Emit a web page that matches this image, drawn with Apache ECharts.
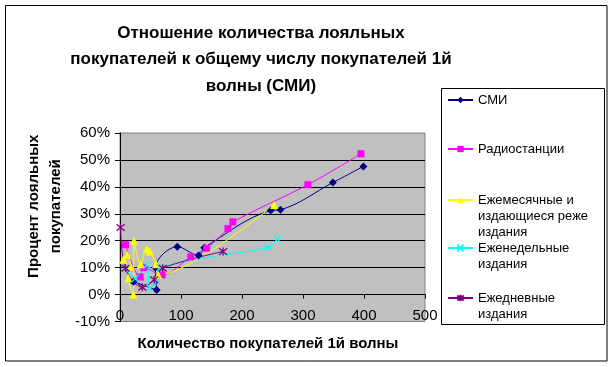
<!DOCTYPE html>
<html>
<head>
<meta charset="utf-8">
<script src="https://cdn.jsdelivr.net/npm/echarts@6/dist/echarts.min.js"></script>
<style>
html,body{margin:0;padding:0;background:#fff;}
#chart{width:613px;height:367px;}
</style>
</head>
<body>
<div id="chart"></div>
<script>
// ---- data ----
const seriesNames = ['СМИ', 'Радиостанции', 'Ежемесячные и издающиеся реже издания', 'Еженедельные издания', 'Ежедневные издания'];
const legendLabels = ['СМИ', 'Радиостанции', 'Ежемесячные и\nиздающиеся реже\nиздания', 'Еженедельные\nиздания', 'Ежедневные\nиздания'];

const smiX = [22, 60, 58, 94, 129, 138, 247, 263, 349, 399];
const smiY = [4.8, 1.7, 10, 17.8, 14.5, 17.4, 31.2, 31.5, 41.6, 47.6];

const radioX = [9, 33, 39, 69, 116, 142, 177, 185, 308, 395];
const radioY = [18.5, 6.5, 10, 7.3, 14, 17.2, 24.5, 27, 40.8, 52.3];

const monthlyX = [5.5, 12, 17.5, 13.6, 22, 23, 34, 44, 49, 59, 63, 252.5];
const monthlyY = [12.9, 14.8, 10.4, 6.1, 0, 20, 11.3, 17, 16, 11.3, 7.3, 33.3];

const weeklyX = [9, 25, 44, 49, 60, 66, 243, 258];
const weeklyY = [9.8, 6, 11, 2.4, 5, 10, 17.6, 20.6];

const dailyX = [1, 9, 36.5, 56, 70, 169];
const dailyY = [24.9, 9.8, 2.7, 5.5, 9.8, 16];

const xTicks = {min: 0, max: 500, interval: 100};
const yTicks = {min: -10, max: 60, interval: 10};

// ---- build ----
const FONT = "'Liberation Sans', Arial, sans-serif";
function pairs(xs, ys) { return xs.map((x, i) => [x, ys[i]]); }

const colors = ['#000080', '#FF00FF', '#FFFF00', '#00FFFF', '#800080'];
const symbols = ['diamond', 'rect', 'triangle', 'path://M0,0L8,8M8,0L0,8', 'path://M0,0L8,8M8,0L0,8M4,-1L4,9'];
const symbolSizes = [8, 7, 8, 7, 8];
const dataSets = [pairs(smiX, smiY), pairs(radioX, radioY), pairs(monthlyX, monthlyY), pairs(weeklyX, weeklyY), pairs(dailyX, dailyY)];
const legendSymbolY = [100, 149, 200, 248, 298];
const LH = 16;

const series = seriesNames.map((name, i) => ({
  name: name,
  type: 'line',
  smooth: 0.35,
  xAxisIndex: 0,
  yAxisIndex: 0,
  data: dataSets[i],
  symbol: symbols[i],
  symbolSize: symbolSizes[i],
  showAllSymbol: true,
  lineStyle: {color: colors[i], width: 1},
  itemStyle: i >= 3 ? {color: colors[i], borderColor: colors[i], borderWidth: 1.3} : {color: colors[i], borderWidth: 0},
  emphasis: {disabled: true},
  animation: false
}));

// Each legend entry is its own legend so the marker sits on the first text line
const legends = seriesNames.map((name, i) => {
  const n = legendLabels[i].split('\n').length;
  const label = '\n'.repeat(n - 1) + legendLabels[i];
  return {
    data: [name],
    orient: 'vertical',
    left: 447,
    top: legendSymbolY[i] - (LH / 2) * (2 * n - 1),
    padding: 0,
    itemWidth: 25,
    itemHeight: 8,
    selectedMode: false,
    formatter: () => label,
    textStyle: {fontFamily: FONT, fontSize: 13, lineHeight: LH, color: '#000'}
  };
});

const chart = echarts.init(document.getElementById('chart'), null, {renderer: 'canvas'});
chart.setOption({
  animation: false,
  backgroundColor: '#ffffff',
  title: {
    text: 'Отношение количества лояльных\nпокупателей к общему числу покупателей 1й\nволны (СМИ)',
    left: 261,
    top: 20,
    textAlign: 'center',
    padding: 0,
    textStyle: {fontFamily: FONT, fontSize: 17, fontWeight: 'bold', lineHeight: 26.5, color: '#000'}
  },
  legend: legends,
  grid: {
    left: 120, top: 133, width: 305, height: 188.5,
    show: true, backgroundColor: '#C0C0C0', borderColor: '#808080', borderWidth: 1
  },
  xAxis: [
    {
      type: 'value', min: xTicks.min, max: xTicks.max, interval: xTicks.interval,
      position: 'bottom',
      name: 'Количество покупателей 1й волны',
      nameLocation: 'middle', nameGap: 15,
      nameTextStyle: {fontFamily: FONT, fontSize: 15, fontWeight: 'bold', color: '#000', verticalAlign: 'top', padding: [0, 9, 0, 0]},
      axisLine: {show: false, onZero: false},
      axisTick: {show: false},
      axisLabel: {fontFamily: FONT, fontSize: 15, color: '#000', margin: -6, verticalAlign: 'middle'},
      splitLine: {show: false}
    },
    {
      type: 'value', min: xTicks.min, max: xTicks.max, interval: xTicks.interval,
      position: 'bottom',
      axisLine: {show: true, onZero: true, onZeroAxisIndex: 0, lineStyle: {color: '#000', width: 1}},
      axisTick: {show: true, inside: false, length: 4, lineStyle: {color: '#000', width: 1}},
      axisLabel: {show: false},
      splitLine: {show: false}
    }
  ],
  yAxis: {
    type: 'value', min: yTicks.min, max: yTicks.max, interval: yTicks.interval,
    name: 'Процент лояльных\nпокупателей',
    nameLocation: 'middle', nameRotate: 90, nameGap: 53,
    nameTextStyle: {fontFamily: FONT, fontSize: 15, fontWeight: 'bold', color: '#000', lineHeight: 22, padding: [0, 0, 0, 42]},
    axisLine: {show: true, onZero: false, lineStyle: {color: '#000', width: 1}},
    axisTick: {show: true, inside: false, length: 5, lineStyle: {color: '#000', width: 1}},
    axisLabel: {fontFamily: FONT, fontSize: 15, color: '#000', margin: 10, formatter: '{value}%'},
    splitLine: {show: true, showMinLine: false, showMaxLine: false, lineStyle: {color: '#000', width: 1}}
  },
  graphic: [
    {type: 'rect', shape: {x: 5.5, y: 5.5, width: 601.5, height: 355.5}, style: {fill: 'none', stroke: '#000', lineWidth: 1}, silent: true, z: -10},
    {type: 'rect', shape: {x: 441.5, y: 88.5, width: 163, height: 236}, style: {fill: 'none', stroke: '#000', lineWidth: 1}, silent: true, z: -10}
  ],
  series: series
});
</script>
</body>
</html>
